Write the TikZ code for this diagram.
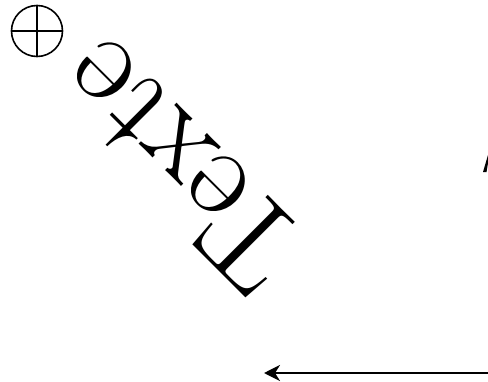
\documentclass[tikz,border=0pt]{standalone}
\usetikzlibrary{arrows.meta}
\begin{document}
\begin{tikzpicture}[x=1pt,y=-1pt,
  arr/.style={line width=2.6pt,-{Stealth[length=16pt,width=16pt,inset=5pt]}},
  opmark/.style={circle,draw,line width=1.6pt,minimum size=51pt,inner sep=0pt},
  big/.style={font=\fontsize{130}{156}\selectfont,inner sep=0pt}]
\useasboundingbox (0,0) rectangle (488,381);
\clip (0,0) rectangle (488,381);
\node[opmark] (o) at (37,31) {};
\draw[line width=1.6pt] (o.north) -- (o.south) (o.west) -- (o.east);
\node[big,rotate=135] (t) at (179,167) {Texte};
\coordinate (as) at (510,373);
\coordinate (ae) at (264,373);
\draw[arr] (as) -- (ae);
\fill (483,172) -- (486.5,172) -- (489,157) -- (488,155) -- cycle;
\end{tikzpicture}
\end{document}
